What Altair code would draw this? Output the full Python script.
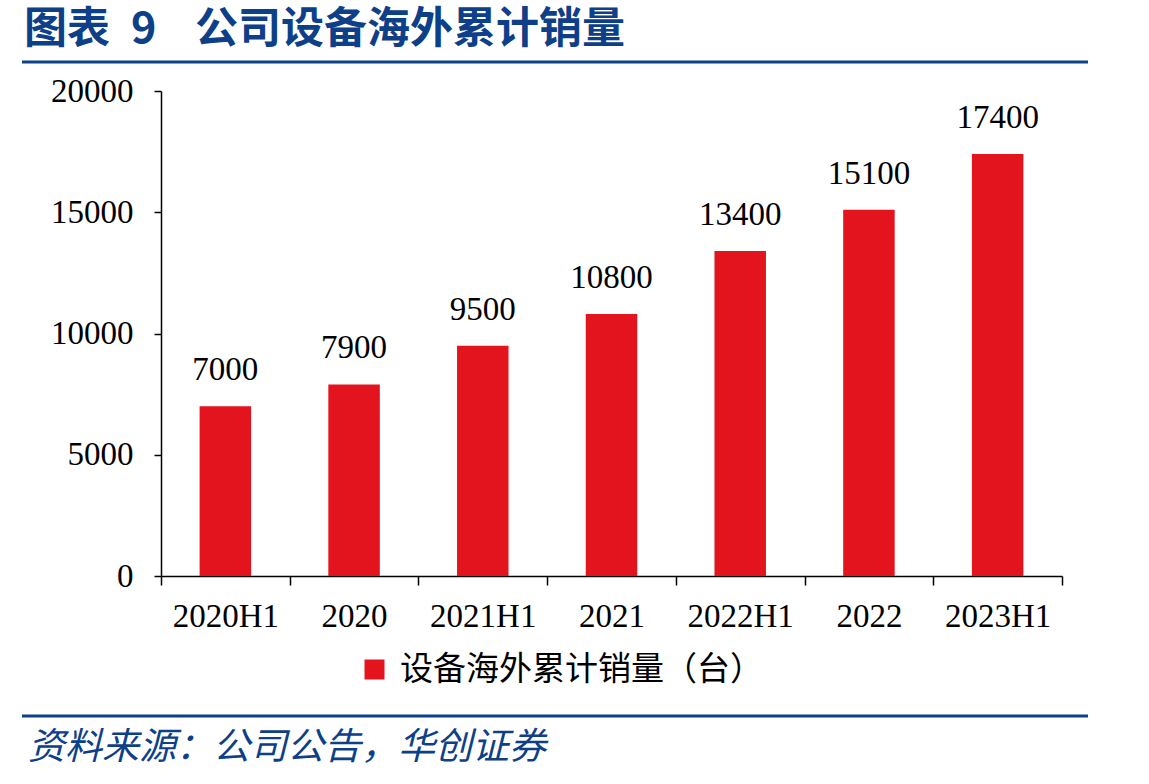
import altair as alt
import pandas as pd

# Cumulative overseas equipment sales (units)
periods = ["2020H1", "2020", "2021H1", "2021", "2022H1", "2022", "2023H1"]
sales = [7000, 7900, 9500, 10800, 13400, 15100, 17400]
series_name = "设备海外累计销量（台）"

title_label = "图表"
title_number = "9"
title_text = "公司设备海外累计销量"
source_text = "资料来源：公司公告，华创证券"

RED = "#E3141D"
NAVY = "#0D4088"
SERIF = "Liberation Serif"
CJK = "Noto Sans CJK SC"

df = pd.DataFrame({"period": periods, "sales": sales, "series": series_name})
one = pd.DataFrame({"k": [0]})

x_enc = alt.X(
    "period:N",
    sort=periods,
    title=None,
    scale=alt.Scale(paddingInner=0, paddingOuter=0),
    axis=alt.Axis(
        labelAngle=0,
        labelFont=SERIF,
        labelFontSize=33,
        labelColor="black",
        labelPadding=15,
        tickBand="extent",
        tickSize=9,
        tickColor="black",
        tickWidth=1.5,
        domainColor="black",
        domainWidth=1.5,
        grid=False,
    ),
)
y_enc = alt.Y(
    "sales:Q",
    title=None,
    scale=alt.Scale(domain=[0, 20000], nice=False),
    axis=alt.Axis(
        values=[0, 5000, 10000, 15000, 20000],
        format="d",
        labelFont=SERIF,
        labelFontSize=33,
        labelColor="black",
        labelPadding=21,
        tickSize=7,
        tickColor="black",
        tickWidth=1.5,
        domainColor="black",
        domainWidth=1.5,
        grid=False,
    ),
)

bars = alt.Chart(df).mark_bar(width=alt.RelativeBandSize(0.4)).encode(
    x=x_enc,
    y=y_enc,
    color=alt.Color(
        "series:N",
        scale=alt.Scale(domain=[series_name], range=[RED]),
        legend=alt.Legend(
            title=None,
            orient="none",
            legendX=197,
            legendY=562,
            symbolType="square",
            symbolSize=400,
            symbolStrokeWidth=0,
            labelFont=CJK,
            labelFontSize=33,
            labelColor="black",
            labelLimit=700,
            labelOffset=9,
            padding=0,
        ),
    ),
)

labels = alt.Chart(df).mark_text(
    font=SERIF, fontSize=33, color="black", baseline="alphabetic", dy=-26
).encode(x=alt.X("period:N", sort=periods), y="sales:Q", text="sales:Q")

top_rule = alt.Chart(one).mark_rule(color=NAVY, strokeWidth=3).encode(
    x=alt.value(-139), x2=alt.value(927), y=alt.value(-29)
)
bottom_rule = alt.Chart(one).mark_rule(color=NAVY, strokeWidth=3).encode(
    x=alt.value(-139), x2=alt.value(927), y=alt.value(625)
)


def heading(text, x):
    return alt.Chart(one).mark_text(
        text=text, font=CJK, fontSize=43, fontWeight="bold", color=NAVY,
        align="left", baseline="middle"
    ).encode(x=alt.value(x), y=alt.value(-61))


source = alt.Chart(one).mark_text(
    text=source_text, font=CJK, fontSize=37, fontStyle="italic", color=NAVY,
    align="left", baseline="middle"
).encode(x=alt.value(-133), y=alt.value(657))

chart = alt.layer(
    bars, labels, top_rule, bottom_rule,
    heading(title_label, -137), heading(title_number, -30), heading(title_text, 34),
    source,
).properties(
    width=901,
    height=485,
    autosize=alt.AutoSizeParams(type="none"),
    padding={"left": 161, "top": 91, "right": 87, "bottom": 208},
).configure_view(stroke=None)

chart.save("out.html", embed_options={"renderer": "svg", "actions": False})
